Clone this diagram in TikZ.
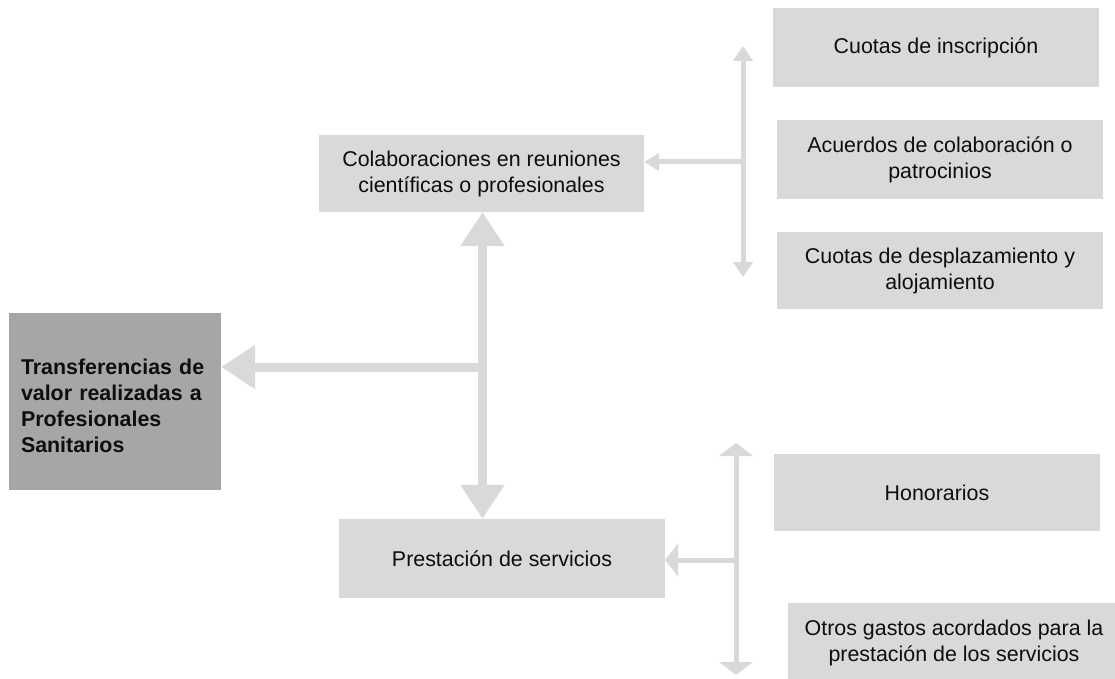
\documentclass[tikz,border=0pt]{standalone}
\usepackage{fontspec}
\setmainfont{Liberation Sans}
\usetikzlibrary{arrows.meta}
\definecolor{boxgray}{HTML}{D9D9D9}
\definecolor{maingray}{HTML}{A6A6A6}
\definecolor{txt}{HTML}{0E0E0E}
\begin{document}
\begin{tikzpicture}[x=1pt,y=-1pt,
  box/.style={fill=boxgray, draw=none, inner sep=0pt, text=txt, align=center,
    font=\fontsize{21.4}{26}\selectfont},
  bigarrow/.style={draw=boxgray, line width=9pt, -{Triangle[width=42pt,length=34pt]}},
  bigdouble/.style={draw=boxgray, line width=9pt, {Triangle[width=42pt,length=34pt]}-{Triangle[width=42pt,length=34pt]}},
  thinarrow/.style={draw=boxgray, line width=5pt, -{Triangle[width=17pt,length=15pt]}},
  thindouble/.style={draw=boxgray, line width=5pt, {Triangle[width=19pt,length=15pt]}-{Triangle[width=19pt,length=15pt]}},
  flatarrow/.style={draw=boxgray, line width=5pt, -{Triangle[width=33pt,length=13pt]}},
  flatdouble/.style={draw=boxgray, line width=5pt, {Triangle[width=33pt,length=13pt]}-{Triangle[width=33pt,length=13pt]}}
]
\useasboundingbox (0,0) rectangle (1115,679);
\fill[white] (0,0) rectangle (1115,679);

% nodes
\node[fill=maingray, inner sep=0pt, minimum width=212pt, minimum height=177pt] (main) at (115,401.5) {};
\node[inner sep=0pt, text width=190pt, align=left, text=txt,
  font=\fontsize{21.4}{26}\selectfont\bfseries] (mainlbl) at ([xshift=1pt,yshift=-4.5pt]main.center)
  {Transferencias de\\valor realizadas a\\Profesionales\\Sanitarios};
\node[box, minimum width=325pt, minimum height=77pt] (colab) at (481.5,173.5)
  {Colaboraciones en reuniones\\científicas o profesionales};
\node[box, minimum width=326pt, minimum height=79pt] (prest) at (502,558.5)
  {Prestación de servicios};
\node[box, minimum width=326pt, minimum height=79pt] (c1) at (936,47.5)
  {Cuotas de inscripción};
\node[box, minimum width=326pt, minimum height=79pt] (c2) at (940,159.5)
  {Acuerdos de colaboración o\\patrocinios};
\node[box, minimum width=326pt, minimum height=77pt] (c3) at (940,270.5)
  {Cuotas de desplazamiento y\\alojamiento};
\node[box, minimum width=326pt, minimum height=77pt] (h1) at (937,492.5)
  {Honorarios};
\node[box, minimum width=332pt, minimum height=80pt] (h2) at (954,643)
  {Otros gastos acordados para la\\prestación de los servicios};

% coordinates
\coordinate (j) at (482.5,367);
\coordinate (t) at (743,162);
\coordinate (ttop) at (743,46);
\coordinate (tbot) at (743,277);
\coordinate (b) at (736,560);
\coordinate (btop) at (736,443);
\coordinate (bbot) at (736,675);

% connectors
\draw[bigdouble] (j |- prest.north) -- (j |- colab.south);
\draw[bigarrow] (j) -- (main.east |- j);
\draw[thindouble] (tbot) -- (ttop);
\draw[thinarrow] (t) -- (t -| colab.east);
\draw[flatdouble] (bbot) -- (btop);
\draw[flatarrow] (b) -- (b -| prest.east);
\end{tikzpicture}
\end{document}
